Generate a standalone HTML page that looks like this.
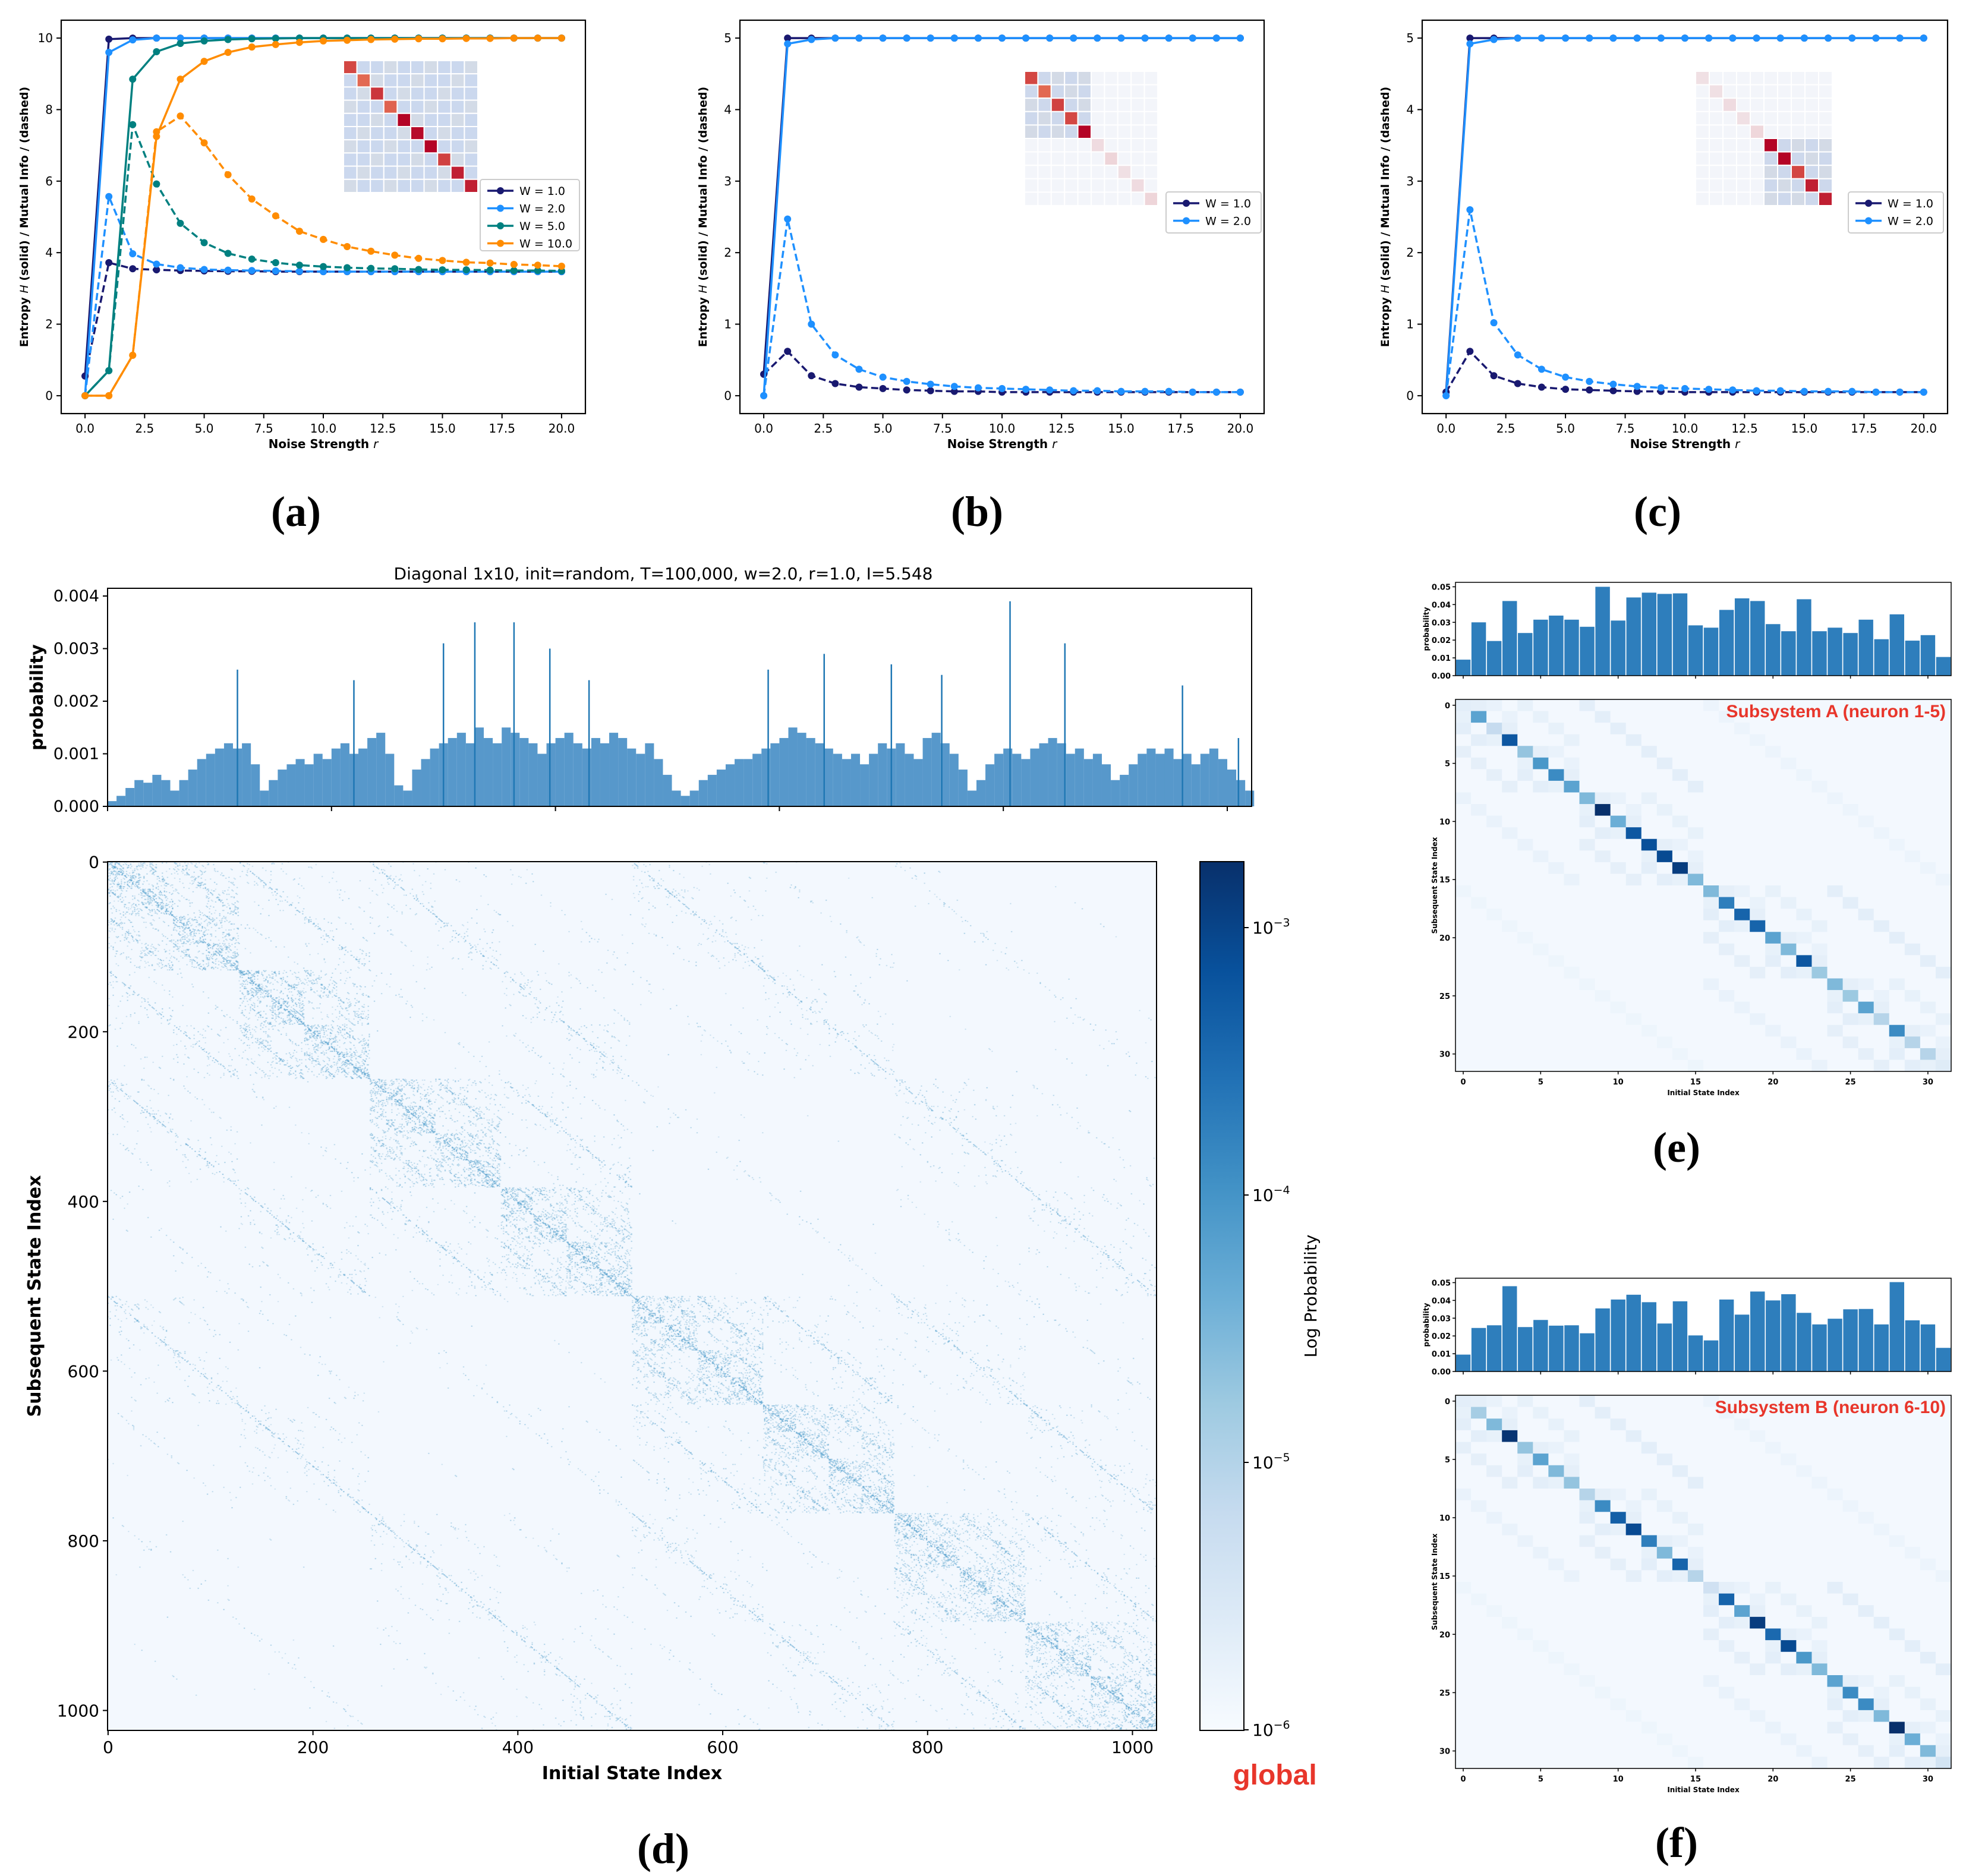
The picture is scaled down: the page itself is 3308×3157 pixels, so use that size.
<!DOCTYPE html>
<html><head><meta charset="utf-8"><style>
body{margin:0;background:#fff}
#root{position:relative;width:3308px;height:3157px;overflow:hidden;background:#fff}
svg{position:absolute;left:0;top:0}
canvas{position:absolute}
text{font-family:"DejaVu Sans","Liberation Sans",sans-serif}
</style></head><body>
<div id="root">
<canvas id="bigheat" width="1024" height="1024" style="left:181px;top:1450px;width:1765px;height:1462px"></canvas>
<svg id="svg" width="3308" height="3157" xmlns="http://www.w3.org/2000/svg"></svg>
</div>
<script>
// ---------- data ----------
const rVals=[0,1,2,3,4,5,6,7,8,9,10,11,12,13,14,15,16,17,18,19,20];
const aH_W1=[0.55,9.97,10,10,10,10,10,10,10,10,10,10,10,10,10,10,10,10,10,10,10];
const aH_W2=[0,9.6,9.95,10,10,10,10,10,10,10,10,10,10,10,10,10,10,10,10,10,10];
const aH_W5=[0,0.7,8.85,9.62,9.85,9.92,9.96,9.98,9.99,10,10,10,10,10,10,10,10,10,10,10,10];
const aH_W10=[0,0,1.13,7.25,8.85,9.35,9.6,9.75,9.82,9.88,9.92,9.94,9.96,9.97,9.98,9.98,9.99,9.99,10,10,10];
const aI_W1=[0.55,3.72,3.55,3.52,3.5,3.49,3.48,3.48,3.47,3.47,3.47,3.47,3.47,3.47,3.47,3.47,3.47,3.47,3.47,3.47,3.47];
const aI_W2=[0,5.57,3.97,3.68,3.58,3.53,3.51,3.5,3.49,3.48,3.47,3.47,3.47,3.47,3.47,3.47,3.47,3.47,3.47,3.47,3.47];
const aI_W5=[0,0.7,7.58,5.92,4.82,4.28,3.98,3.82,3.72,3.65,3.61,3.58,3.56,3.55,3.53,3.52,3.52,3.51,3.5,3.5,3.49];
const aI_W10=[0,0,1.13,7.38,7.82,7.07,6.18,5.5,5.03,4.6,4.37,4.17,4.04,3.93,3.84,3.78,3.73,3.71,3.67,3.65,3.62];
const bH_W1=[0.3,5,5,5,5,5,5,5,5,5,5,5,5,5,5,5,5,5,5,5,5];
const bH_W2=[0,4.92,4.98,5,5,5,5,5,5,5,5,5,5,5,5,5,5,5,5,5,5];
const bI_W1=[0.3,0.62,0.28,0.17,0.12,0.1,0.08,0.07,0.06,0.06,0.05,0.05,0.05,0.05,0.05,0.05,0.05,0.05,0.05,0.05,0.05];
const bI_W2=[0,2.47,1.0,0.57,0.37,0.26,0.2,0.16,0.13,0.11,0.1,0.09,0.08,0.07,0.07,0.06,0.06,0.06,0.05,0.05,0.05];
const cH_W1=[0.05,5,5,5,5,5,5,5,5,5,5,5,5,5,5,5,5,5,5,5,5];
const cH_W2=[0,4.92,4.98,5,5,5,5,5,5,5,5,5,5,5,5,5,5,5,5,5,5];
const cI_W1=[0.05,0.62,0.28,0.17,0.12,0.09,0.08,0.07,0.06,0.06,0.05,0.05,0.05,0.05,0.05,0.05,0.05,0.05,0.05,0.05,0.05];
const cI_W2=[0,2.6,1.02,0.57,0.37,0.26,0.2,0.16,0.13,0.11,0.1,0.09,0.08,0.07,0.07,0.06,0.06,0.06,0.05,0.05,0.05];
const insetA=[0.8,0.7,0.85,0.72,1,0.98,1,0.82,0.92,0.92];
const insetB=[0.8,0.7,0.82,0.8,1,0.12,0.15,0.1,0.12,0.15];
const insetC=[0.1,0.1,0.12,0.1,0.14,1,1,0.8,0.92,0.92];
// global distribution (units of 0.001), 8 states per entry
const globalProb=[0.1,0.2,0.35,0.5,0.45,0.6,0.5,0.3,0.5,0.7,0.9,1.0,1.1,1.2,1.1,1.2,0.8,0.3,0.5,0.7,0.8,0.9,0.8,1.0,0.9,1.1,1.2,1.0,1.1,1.3,1.4,1.0,
0.4,0.3,0.7,0.9,1.1,1.2,1.3,1.4,1.2,1.5,1.3,1.2,1.5,1.4,1.3,1.2,1.0,1.2,1.3,1.4,1.2,1.1,1.3,1.2,1.4,1.3,1.1,1.0,1.2,0.9,0.6,0.3,
0.2,0.3,0.5,0.6,0.7,0.8,0.9,0.9,1.0,1.1,1.2,1.3,1.5,1.4,1.3,1.2,1.1,1.0,0.9,1.0,0.8,1.0,1.2,1.1,1.2,1.0,0.9,1.3,1.4,1.2,1.0,0.7,
0.3,0.5,0.8,1.0,1.1,1.0,0.9,1.1,1.2,1.3,1.2,1.0,1.1,0.9,1.0,0.8,0.5,0.6,0.8,1.0,1.1,1.0,1.1,0.9,1.0,0.8,1.0,1.1,0.9,0.7,0.5,0.3];
const peakStates=[116,220,300,328,363,395,430,590,640,700,745,806,855,960,1010];
const peakVals=[2.6,2.4,3.1,3.5,3.5,3.0,2.4,2.6,2.9,2.7,2.5,3.9,3.1,2.3,1.3];
const cbTicks=[-3,-4,-5,-6];
const eProb=[0.009,0.030,0.0195,0.042,0.024,0.0315,0.0338,0.0315,0.0275,0.050,0.031,0.044,0.0467,0.046,0.0463,0.0283,0.027,0.037,0.0435,0.042,0.029,0.025,0.043,0.025,0.027,0.024,0.0315,0.0205,0.0345,0.0197,0.0228,0.0105];
const fProb=[0.0095,0.0245,0.026,0.048,0.025,0.029,0.0258,0.026,0.0215,0.0355,0.0405,0.0432,0.039,0.027,0.0395,0.0203,0.0175,0.0405,0.032,0.045,0.040,0.0435,0.033,0.0265,0.0297,0.035,0.0352,0.0265,0.0503,0.0288,0.0265,0.0133];
const eDiag=[0.1,0.55,0.25,0.85,0.4,0.6,0.65,0.55,0.45,1.0,0.5,0.85,0.88,0.9,0.95,0.45,0.45,0.7,0.8,0.8,0.55,0.45,0.85,0.38,0.45,0.38,0.55,0.3,0.65,0.3,0.3,0.12];
const fDiag=[0.1,0.35,0.45,0.98,0.4,0.55,0.45,0.4,0.3,0.65,0.82,0.9,0.7,0.45,0.8,0.3,0.2,0.8,0.55,0.95,0.78,0.9,0.6,0.45,0.55,0.65,0.65,0.45,1.0,0.5,0.45,0.18];

// ---------- helpers ----------
const NS='http://www.w3.org/2000/svg';
const svg=document.getElementById('svg');
function el(tag,attrs,parent,txt){const e=document.createElementNS(NS,tag);for(const k in attrs)e.setAttribute(k,attrs[k]);if(txt!==undefined)e.textContent=txt;(parent||svg).appendChild(e);return e;}
function hex(c){return [parseInt(c.slice(1,3),16),parseInt(c.slice(3,5),16),parseInt(c.slice(5,7),16)];}
function mix(a,b,t){const A=hex(a),B=hex(b);return 'rgb('+A.map((v,i)=>Math.round(v+(B[i]-v)*t)).join(',')+')';}
const BLUES=['#f7fbff','#deebf7','#c6dbef','#9ecae1','#6baed6','#4292c6','#2171b5','#08519c','#08306b'];
function blues(t){t=Math.max(0,Math.min(1,t));const s=t*(BLUES.length-1);const i=Math.min(BLUES.length-2,Math.floor(s));return mix(BLUES[i],BLUES[i+1],s-i);}
function bluesRGB(t){t=Math.max(0,Math.min(1,t));const s=t*(BLUES.length-1);const i=Math.min(BLUES.length-2,Math.floor(s));const A=hex(BLUES[i]),B=hex(BLUES[i+1]);const f=s-i;return A.map((v,k)=>Math.round(v+(B[k]-v)*f));}

// ---------- line panels ----------
function linePanel(id,x0,x1,y0,y1,ymax,yticks,series,inset,insetBox,block,legend){
  const g=el('g',{},svg);
  
  const ymin=-ymax*0.05, ytop=ymax*1.05;
  const sx=v=>x0+(v+1)/22*(x1-x0);
  const sy=v=>y1-(v-ymin)/(ytop-ymin)*(y1-y0);
  const ig=el('g',{},g); 
  const [ix,iy,iw,ih]=insetBox; const cw=iw/10,ch=ih/10;
  for(let i=0;i<10;i++)for(let j=0;j<10;j++){
    let base;
    if(block==='all') base=((i+j)%3===0)?'#d3dbe7':'#cbd8ee';
    else { const inB=block==='low'?(i<5&&j<5):(i>=5&&j>=5); base=inB?(((i+j)%2)?'#cdd8ec':'#d3dae6'):'#f3f5fa'; }
    const fill=i===j?(inset[i]<0.3?mix('#f3f5fa','#e07070',inset[i]*1.6):mix('#e26952','#b40426',(inset[i]-0.7)/0.3)):base;
    el('rect',{x:ix+j*cw,y:iy+i*ch,width:cw,height:ch,fill:fill,stroke:'#fff','stroke-width':2},ig);
  }
  el('rect',{x:x0,y:y0,width:x1-x0,height:y1-y0,fill:'none',stroke:'#000','stroke-width':2.2,},g);
  for(let v=0;v<=20;v+=2.5){const X=sx(v);el('line',{x1:X,y1:y1,x2:X,y2:y1+8,stroke:'#000','stroke-width':2},g);
    const t=el('text',{x:X,y:y1+32,'font-size':20,'text-anchor':'middle'},g,v.toFixed(1));}
  yticks.forEach(v=>{const Y=sy(v);el('line',{x1:x0-8,y1:Y,x2:x0,y2:Y,stroke:'#000','stroke-width':2},g);
    const t=el('text',{x:x0-14,y:Y+7,'font-size':20,'text-anchor':'end'},g,String(v));});
  const xl=el('text',{x:(x0+x1)/2,y:y1+58,'font-size':20,'font-weight':'bold','text-anchor':'middle',},g);
  xl.innerHTML='Noise Strength <tspan font-style="italic" font-weight="normal">r</tspan>';
  const yl=el('text',{x:0,y:0,'font-size':19,'font-weight':'bold','text-anchor':'middle',transform:`translate(${x0-56},${(y0+y1)/2}) rotate(-90)`,},g);
  yl.innerHTML='Entropy <tspan font-style="italic" font-weight="normal">H</tspan> (solid) / Mutual Info / (dashed)';
  series.forEach(s=>{
    const pts=rVals.map((r,i)=>sx(r)+','+sy(s.v[i])).join(' ');
    const p=el('polyline',{points:pts,fill:'none',stroke:s.c,'stroke-width':3.5,'stroke-dasharray':s.d?'12,6':'none'},g);
    
    rVals.forEach((r,i)=>{const c=el('circle',{cx:sx(r),cy:sy(s.v[i]),r:6,fill:s.c},g);});
  });
  const [lx,ly,lw,lh,items]=legend;
  const lg=el('g',{},g);
  el('rect',{x:lx,y:ly,width:lw,height:lh,fill:'#fff',stroke:'#ccc','stroke-width':2,rx:4},lg);
  items.forEach((it,k)=>{const Y=ly+19+k*29.5;
    el('line',{x1:lx+12,y1:Y,x2:lx+56,y2:Y,stroke:it[1],'stroke-width':3.5},lg);
    el('circle',{cx:lx+34,cy:Y,r:6,fill:it[1]},lg);
    const t=el('text',{x:lx+66,y:Y+7,'font-size':19},lg,it[0]);});
}
const C1='#191970',C2='#1e90ff',C5='#008080',C10='#ff8c00';
linePanel('a',103,985,34,696,10,[0,2,4,6,8,10],[
 {v:aI_W1,c:C1,d:1,n:'mi-w1'},{v:aI_W2,c:C2,d:1,n:'mi-w2'},{v:aI_W5,c:C5,d:1,n:'mi-w5'},{v:aI_W10,c:C10,d:1,n:'mi-w10'},
 {v:aH_W1,c:C1,n:'entropy-w1'},{v:aH_W2,c:C2,n:'entropy-w2'},{v:aH_W5,c:C5,n:'entropy-w5'},{v:aH_W10,c:C10,n:'entropy-w10'}],
 insetA,[578,102,226,222],'all',[808,302,167,120,[['W = 1.0',C1],['W = 2.0',C2],['W = 5.0',C5],['W = 10.0',C10]]]);
linePanel('b',1245,2127,34,696,5,[0,1,2,3,4,5],[
 {v:bI_W1,c:C1,d:1,n:'mi-w1'},{v:bI_W2,c:C2,d:1,n:'mi-w2'},{v:bH_W1,c:C1,n:'entropy-w1'},{v:bH_W2,c:C2,n:'entropy-w2'}],
 insetB,[1724,120,224,226],'low',[1962,323,160,69,[['W = 1.0',C1],['W = 2.0',C2]]]);
linePanel('c',2393,3277,34,696,5,[0,1,2,3,4,5],[
 {v:cI_W1,c:C1,d:1,n:'mi-w1'},{v:cI_W2,c:C2,d:1,n:'mi-w2'},{v:cH_W1,c:C1,n:'entropy-w1'},{v:cH_W2,c:C2,n:'entropy-w2'}],
 insetC,[2853,120,230,226],'high',[3110,323,160,69,[['W = 1.0',C1],['W = 2.0',C2]]]);

[['(a)',498,885],['(b)',1644,885],['(c)',2789,885],['(d)',1116,3135],['(e)',2821,1955],['(f)',2821,3125]].forEach(p=>{
  const t=el('text',{x:p[1],y:p[2],'font-size':72,'font-weight':'bold','text-anchor':'middle',style:'font-family:"Liberation Serif",serif'},svg,p[0]);
  });

// ---------- panel d ----------
(function(){
  const x0=181,x1=2106,y0=990,y1=1357;
  const sx=v=>x0+v*1.884, sy=v=>y1-v/0.004*(y1-1003);
  el('text',{x:1116,y:975,'font-size':28,'text-anchor':'middle',},svg,'Diagonal 1x10, init=random, T=100,000, w=2.0, r=1.0, I=5.548');
  const g=el('g',{},svg);
  globalProb.forEach((v,i)=>{const X=sx(i*8);const r=el('rect',{x:X,y:sy(v/1000),width:8*1.884,height:y1-sy(v/1000),fill:'#3a86c2',opacity:0.85},g);
    });
  peakStates.forEach((s,i)=>{const l=el('line',{x1:sx(s),x2:sx(s),y1:y1,y2:sy(peakVals[i]/1000),stroke:'#1f77b4','stroke-width':2.5},g);
    });
  el('rect',{x:x0,y:y0,width:x1-x0,height:y1-y0,fill:'none',stroke:'#000','stroke-width':2,},svg);
  [0,0.001,0.002,0.003,0.004].forEach(v=>{const Y=sy(v);el('line',{x1:x0-8,x2:x0,y1:Y,y2:Y,stroke:'#000','stroke-width':2});
    el('text',{x:x0-14,y:Y+9,'font-size':27,'text-anchor':'end',},svg,v.toFixed(3));});
  [0,200,400,600,800,1000].forEach(v=>{el('line',{x1:sx(v),x2:sx(v),y1:y1,y2:y1+8,stroke:'#000','stroke-width':2});});
  el('text',{x:0,y:0,'font-size':29,'font-weight':'bold','text-anchor':'middle',transform:`translate(72,${(y0+y1)/2}) rotate(-90)`,},svg,'probability');
  const hx0=181,hx1=1946,hy0=1450,hy1=2912;
  const hsx=v=>hx0+(v+0.5)*(hx1-hx0)/1024, hsy=v=>hy0+(v+0.5)*(hy1-hy0)/1024;
  el('rect',{x:hx0,y:hy0,width:hx1-hx0,height:hy1-hy0,fill:'none',stroke:'#000','stroke-width':2,});
  [0,200,400,600,800,1000].forEach(v=>{
    el('line',{x1:hsx(v),x2:hsx(v),y1:hy1,y2:hy1+8,stroke:'#000','stroke-width':2});
    el('text',{x:hsx(v),y:hy1+38,'font-size':28,'text-anchor':'middle',},svg,String(v));
    el('line',{x1:hx0-8,x2:hx0,y1:hsy(v),y2:hsy(v),stroke:'#000','stroke-width':2});
    el('text',{x:hx0-14,y:hsy(v)+10,'font-size':28,'text-anchor':'end',},svg,String(v));});
  el('text',{x:(hx0+hx1)/2,y:2994,'font-size':30,'font-weight':'bold','text-anchor':'middle',},svg,'Initial State Index');
  el('text',{x:0,y:0,'font-size':30,'font-weight':'bold','text-anchor':'middle',transform:`translate(68,${(hy0+hy1)/2}) rotate(-90)`,},svg,'Subsequent State Index');
  const defs=el('defs',{});const lg=el('linearGradient',{id:'cb',x1:0,y1:1,x2:0,y2:0},defs);
  for(let k=0;k<=8;k++)el('stop',{offset:k/8,'stop-color':BLUES[k]},lg);
  const cx0=2019,cx1=2093; const csy=v=>2911-(v+6)*450;
  el('rect',{x:cx0,y:hy0,width:cx1-cx0,height:hy1-hy0,fill:'url(#cb)',stroke:'#000','stroke-width':2,});
  cbTicks.forEach(v=>{const Y=csy(v);el('line',{x1:cx1,x2:cx1+8,y1:Y,y2:Y,stroke:'#000','stroke-width':2});
    const t=el('text',{x:cx1+14,y:Y+10,'font-size':28},svg);t.innerHTML='10<tspan dy="-12" font-size="19">−'+(-v)+'</tspan>';
    });
  el('text',{x:0,y:0,'font-size':28,'text-anchor':'middle',transform:`translate(2215,${(hy0+hy1)/2}) rotate(-90)`,},svg,'Log Probability');
  el('text',{x:2145,y:3003,'font-size':48,'font-weight':'bold','fill':'#e8362b','text-anchor':'middle','style':'font-family:"Liberation Sans",sans-serif',},svg,'global');
  const cv=document.getElementById('bigheat');const ctx=cv.getContext('2d');const img=ctx.createImageData(1024,1024);
  const bg=bluesRGB(0.02);
  function pc(x){let c=0;while(x){c+=x&1;x>>=1;}return c;}
  function h(i,j){let x=(i*73856093)^(j*19349663);x=(x^(x>>>13))*1274126177;x=x^(x>>>16);return (x>>>0)/4294967296;}
  for(let i=0;i<1024;i++)for(let j=0;j<1024;j++){
    const d=i^j;const p=pc(d);let col=bg;
    const blk=(d>>7)===0;
    let prob=0;
    if(p===0)prob=0.6;else if(p===1)prob=0.4;else if(p===2)prob=blk?0.28:0.12;else if(p===3)prob=blk?0.14:0.035;
    if(prob>0&&h(i,j)<prob){col=bluesRGB((p===0?0.5:(p===1?0.42:0.3))+0.18*h(j,i));}
    const o=(i*1024+j)*4;img.data[o]=col[0];img.data[o+1]=col[1];img.data[o+2]=col[2];img.data[o+3]=255;}
  ctx.putImageData(img,0,0);
})();

// ---------- panels e & f ----------
function subPanel(id,by0,by1,hy0,hy1,prob,diag,title){
  const x0=2449,x1=3283;const cw=(x1-x0)/32;
  const g=el('g',{},svg);
  const sy=v=>by1-v/0.0525*(by1-by0);
  prob.forEach((v,i)=>{const r=el('rect',{x:x0+i*cw+0.8,y:sy(v),width:cw-1.6,height:by1-sy(v),fill:'#2e7ebc'},g);
    });
  el('rect',{x:x0,y:by0,width:x1-x0,height:by1-by0,fill:'none',stroke:'#000','stroke-width':1.5},g);
  [0,0.01,0.02,0.03,0.04,0.05].forEach(v=>{const Y=sy(v);el('line',{x1:x0-5,x2:x0,y1:Y,y2:Y,stroke:'#000','stroke-width':1.5},g);
    el('text',{x:x0-8,y:Y+5,'font-size':13,'font-weight':'bold','text-anchor':'end',},g,v.toFixed(2));});
  el('text',{x:0,y:0,'font-size':12,'font-weight':'bold','text-anchor':'middle',transform:`translate(2404,${(by0+by1)/2}) rotate(-90)`,},g,'probability');
  const ch=(hy1-hy0)/32;
  for(let i=0;i<32;i++)for(let j=0;j<32;j++){
    const d=i^j;let t=0.02;
    if(i===j)t=diag[i];else if((d&(d-1))===0)t=(d<16?0.1:0.06)*(0.6+0.4*((i*7+j*3)%5)/4);
    const r=el('rect',{x:x0+j*cw,y:hy0+i*ch,width:cw+0.5,height:ch+0.5,fill:blues(t)},g);
    }
  el('rect',{x:x0,y:hy0,width:x1-x0,height:hy1-hy0,fill:'none',stroke:'#000','stroke-width':1.5},g);
  [0,5,10,15,20,25,30].forEach(v=>{const X=x0+(v+0.5)*cw,Y=hy0+(v+0.5)*ch;
    el('line',{x1:X,x2:X,y1:hy1,y2:hy1+5,stroke:'#000','stroke-width':1.5},g);
    el('line',{x1:X,x2:X,y1:by1,y2:by1+5,stroke:'#000','stroke-width':1.5},g);
    el('text',{x:X,y:hy1+22,'font-size':13,'font-weight':'bold','text-anchor':'middle',},g,String(v));
    el('line',{x1:x0-5,x2:x0,y1:Y,y2:Y,stroke:'#000','stroke-width':1.5},g);
    el('text',{x:x0-9,y:Y+5,'font-size':13,'font-weight':'bold','text-anchor':'end',},g,String(v));});
  el('text',{x:(x0+x1)/2,y:hy1+40,'font-size':12,'font-weight':'bold','text-anchor':'middle',},g,'Initial State Index');
  el('text',{x:0,y:0,'font-size':12,'font-weight':'bold','text-anchor':'middle',transform:`translate(2418,${(hy0+hy1)/2}) rotate(-90)`,},g,'Subsequent State Index');
  el('text',{x:3274,y:hy0+30,'font-size':30,'font-weight':'bold',fill:'#e8362b','text-anchor':'end',style:'font-family:"Liberation Sans",sans-serif',},g,title);
}
subPanel('a',980,1137,1177,1803,eProb,eDiag,'Subsystem A (neuron 1-5)');
subPanel('b',2151,2308,2348,2976,fProb,fDiag,'Subsystem B (neuron 6-10)');
</script>
</body></html>
